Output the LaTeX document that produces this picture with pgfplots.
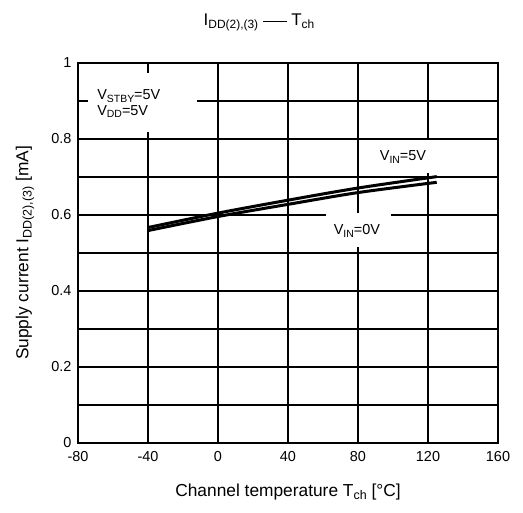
\documentclass[border=0pt]{standalone}
\usepackage{pgfplots}
\pgfplotsset{compat=1.18}
\usepackage{fontspec}
\setmainfont{Liberation Sans}
\newcommand\ssub[2][10.5]{\raisebox{-0.35ex}{\fontsize{#1}{#1}\selectfont #2}}
\begin{document}
\begin{tikzpicture}
\begin{axis}[
  at={(0,0)}, anchor=south west,
  scale only axis, width=420bp, height=380bp,
  xmin=-80, xmax=160, ymin=0, ymax=1,
  xtick={-80,-40,0,40,80,120,160},
  ytick={0,0.2,0.4,0.6,0.8,1},
  minor ytick={0.1,0.3,0.5,0.7,0.9},
  grid=both,
  major grid style={black, line width=1.5bp},
  minor grid style={black, line width=1.5bp},
  axis line style={black, line width=1.6bp},
  major tick length=0pt, minor tick length=0pt,
  /pgf/number format/assume math mode=true,
  ticklabel style={font=\fontsize{14.5}{16}\selectfont},
  xticklabel style={yshift=-5bp},
  yticklabel style={xshift=-3bp},
  xlabel={Channel temperature T\ssub[12.5]{ch} [\textdegree C]},
  ylabel={Supply current I\ssub[12.5]{DD(2),(3)} [mA]},
  label style={font=\fontsize{17.4}{19}\selectfont},
  xlabel style={at={(axis description cs:0.5,-0.129)}, anchor=center},
  ylabel style={at={(axis description cs:-0.126,0.5)}, anchor=center},
  clip=false,
]
\fill[white] (axis cs:-74.3,0.818) rectangle (axis cs:-12,0.974);
\fill[white] (axis cs:86.9,0.711) rectangle (axis cs:126.9,0.797);
\fill[white] (axis cs:61.7,0.516) rectangle (axis cs:98.9,0.605);
\node[anchor=west, align=left, font=\fontsize{14.5}{15.5}\selectfont, inner sep=0pt] at (axis cs:-69.1,0.893) {V\ssub{STBY}=5V\\V\ssub{DD}=5V};
\node[font=\fontsize{14.5}{16}\selectfont, inner sep=0pt] at (axis cs:105.7,0.752) {V\ssub{IN}=5V};
\node[font=\fontsize{14.5}{16}\selectfont, inner sep=0pt] at (axis cs:79.4,0.558) {V\ssub{IN}=0V};
\addplot[black, line width=3bp, smooth] coordinates {(-40,0.567) (0,0.605) (40,0.639) (80,0.671) (125,0.701)};
\addplot[black, line width=3bp, smooth] coordinates {(-40,0.559) (0,0.596) (40,0.628) (80,0.659) (125,0.686)};
\end{axis}
\node[font=\fontsize{17}{19}\selectfont] at (181bp,421bp) {I\ssub[12]{DD(2),(3)} \rule[0.33ex]{1.4em}{1.4bp} T\ssub[12]{ch}};
\pgfresetboundingbox
\path[use as bounding box] (-78bp,-70bp) rectangle (445bp,443bp);
\end{tikzpicture}
\end{document}
